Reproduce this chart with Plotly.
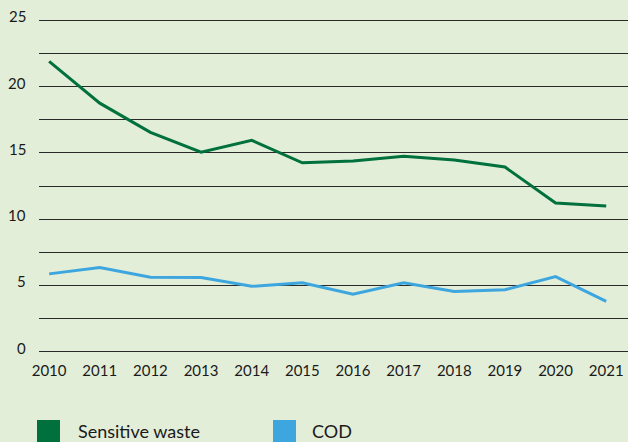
import plotly.graph_objects as go

years = [2010, 2011, 2012, 2013, 2014, 2015, 2016, 2017, 2018, 2019, 2020, 2021]
sensitive_waste = [21.9, 18.75, 16.55, 15.05, 15.95, 14.25, 14.38, 14.75, 14.47, 13.93, 11.22, 11.0]
cod = [5.87, 6.35, 5.62, 5.6, 4.93, 5.2, 4.33, 5.2, 4.55, 4.67, 5.67, 3.8]
y_tickvals = [0, 2.5, 5, 7.5, 10, 12.5, 15, 17.5, 20, 22.5, 25]
y_labelvals = [0, 5, 10, 15, 20, 25]
legend_names = ["Sensitive waste", "COD"]

GREEN = "#00703C"
BLUE = "#3DA6DE"
BG = "#E3EED8"
FONT = "Lato"
TXT = "#1a1a1a"

fig = go.Figure()
fig.add_trace(go.Scatter(x=years, y=sensitive_waste, mode="lines", name=legend_names[0],
                         line=dict(color=GREEN, width=3), showlegend=False))
fig.add_trace(go.Scatter(x=years, y=cod, mode="lines", name=legend_names[1],
                         line=dict(color=BLUE, width=3), showlegend=False))

W, H = 628, 442
ml, mr, mt, mb = 39, 0, 17, 87
pw, ph = W - ml - mr, H - mt - mb

def px_x(p):
    return (p - ml) / pw

def px_y(p):
    return (H - mb - p) / ph

# y tick labels (right-aligned, sitting slightly above their gridlines)
for v in y_labelvals:
    fig.add_annotation(xref="paper", yref="y", x=px_x(28), y=v, text=str(v),
                       showarrow=False, xanchor="right", yanchor="middle", yshift=4,
                       font=dict(family=FONT, size=15, color=TXT))

# legend drawn manually (square swatches)
for name, color, sx, tx in [(legend_names[0], GREEN, 37, 76), (legend_names[1], BLUE, 273, 310)]:
    fig.add_shape(type="rect", xref="paper", yref="paper",
                  x0=px_x(sx), x1=px_x(sx + 23), y0=px_y(420), y1=px_y(450),
                  fillcolor=color, line=dict(width=0), layer="above")
    fig.add_annotation(xref="paper", yref="paper", x=px_x(tx), y=px_y(431),
                       text=name, showarrow=False, xanchor="left", yanchor="middle",
                       font=dict(family=FONT, size=18, color=TXT))

fig.update_layout(
    width=W, height=H,
    margin=dict(l=ml, r=mr, t=mt, b=mb),
    paper_bgcolor=BG, plot_bgcolor=BG,
    font=dict(family=FONT, size=15, color=TXT),
    showlegend=False,
)
fig.update_xaxes(range=[2009.8, 2021.43], tickvals=years, ticktext=[str(y) for y in years],
                 showgrid=False, zeroline=False, showline=False, ticks="",
                 tickfont=dict(family=FONT, size=15, color=TXT), ticklabelstandoff=5)
fig.update_yaxes(range=[-0.25, 25.25], tickvals=y_tickvals, showticklabels=False,
                 showgrid=True, gridcolor="#2a2a2a", gridwidth=1, zeroline=False,
                 showline=False, ticks="")

fig.write_html("out.html", config={"displayModeBar": False},
               post_script="document.body.style.margin='0';document.body.style.overflow='hidden';")
